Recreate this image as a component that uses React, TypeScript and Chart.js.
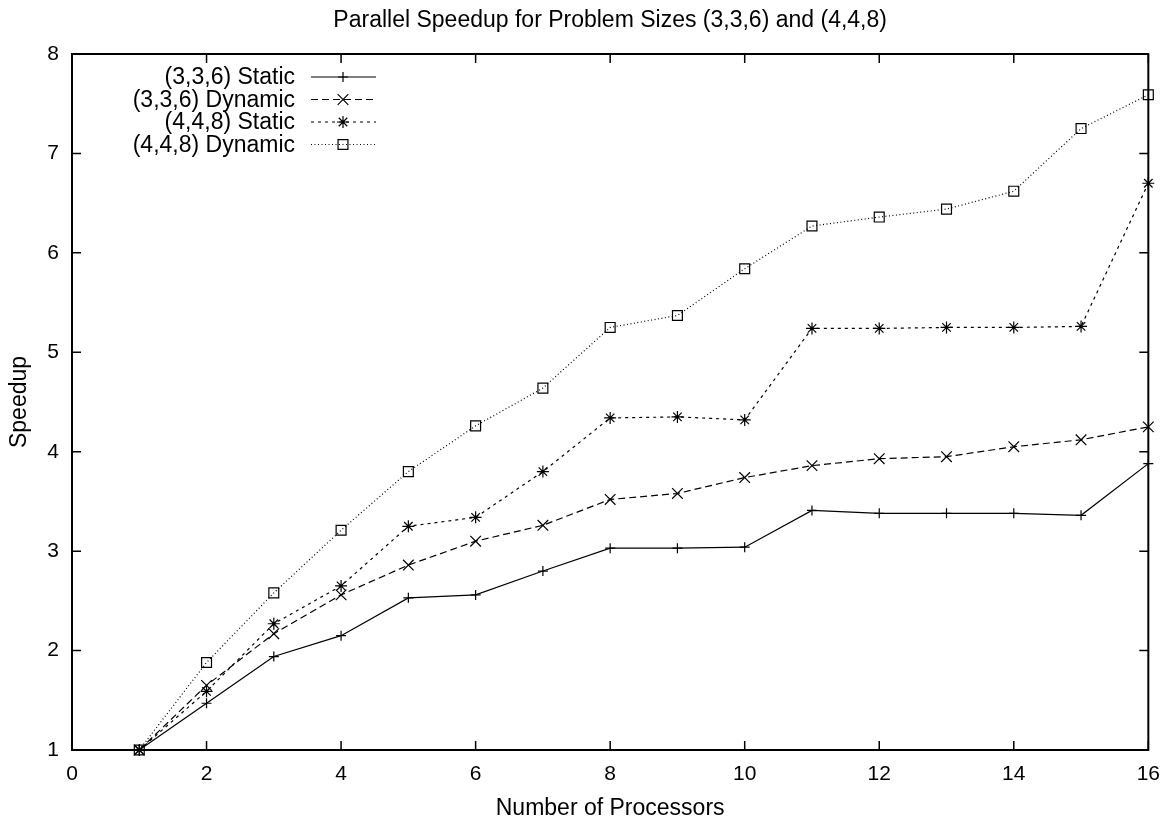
import React, { useEffect, useRef } from "react";
import { Chart, registerables } from "chart.js";
import { drawPoint } from "chart.js/helpers";

Chart.register(...registerables);

const processors = [1, 2, 3, 4, 5, 6, 7, 8, 9, 10, 11, 12, 13, 14, 15, 16];
const static336 = [1.0, 1.47, 1.94, 2.15, 2.53, 2.56, 2.8, 3.03, 3.03, 3.04, 3.41, 3.38, 3.38, 3.38, 3.36, 3.88];
const dynamic336 = [1.0, 1.65, 2.17, 2.56, 2.86, 3.1, 3.26, 3.52, 3.58, 3.74, 3.86, 3.93, 3.95, 4.05, 4.12, 4.25];
const static448 = [1.0, 1.59, 2.27, 2.65, 3.25, 3.34, 3.8, 4.34, 4.35, 4.32, 5.24, 5.24, 5.25, 5.25, 5.26, 6.7];
const dynamic448 = [1.0, 1.88, 2.58, 3.21, 3.8, 4.26, 4.64, 5.25, 5.37, 5.84, 6.27, 6.36, 6.44, 6.62, 7.25, 7.59];

const seriesLabels = ["(3,3,6) Static", "(3,3,6) Dynamic", "(4,4,8) Static", "(4,4,8) Dynamic"];
const titleText = "Parallel Speedup for Problem Sizes (3,3,6) and (4,4,8)";
const xTitle = "Number of Processors";
const yTitle = "Speedup";

const FONT = '"Liberation Sans", Arial, Helvetica, sans-serif';

const toXY = (vals: number[]) => vals.map((v, i) => ({ x: processors[i], y: v }));

const gnuplotPlugin = {
  id: "gnuplotFrame",
  afterDatasetsDraw(chart: any) {
    const { ctx, chartArea } = chart;
    const { left, right, top, bottom } = chartArea;
    const xs = chart.scales.x;
    const ys = chart.scales.y;
    ctx.save();
    ctx.strokeStyle = "#000";
    ctx.setLineDash([]);
    ctx.lineWidth = 1.5;
    const tl = 9;
    ctx.beginPath();
    xs.ticks.forEach((t: any) => {
      const px = xs.getPixelForValue(t.value);
      ctx.moveTo(px, bottom);
      ctx.lineTo(px, bottom - tl);
      ctx.moveTo(px, top);
      ctx.lineTo(px, top + tl);
    });
    ys.ticks.forEach((t: any) => {
      const py = ys.getPixelForValue(t.value);
      ctx.moveTo(left, py);
      ctx.lineTo(left + tl, py);
      ctx.moveTo(right, py);
      ctx.lineTo(right - tl, py);
    });
    ctx.stroke();
    ctx.lineWidth = 2;
    ctx.strokeRect(left, top, right - left, bottom - top);
    ctx.restore();
  },
  afterDraw(chart: any) {
    const { ctx, chartArea } = chart;
    ctx.save();
    // title
    ctx.fillStyle = "#000";
    ctx.font = `23px ${FONT}`;
    ctx.textAlign = "center";
    ctx.textBaseline = "alphabetic";
    ctx.fillText(titleText, (chartArea.left + chartArea.right) / 2, 27);
    // legend
    chart.data.datasets.forEach((ds: any, i: number) => {
      const yy = 77 + i * 22.5;
      ctx.fillStyle = "#000";
      ctx.font = `23px ${FONT}`;
      ctx.textAlign = "right";
      ctx.textBaseline = "middle";
      ctx.fillText(ds.label, 295, yy + 1);
      ctx.strokeStyle = "#000";
      ctx.lineWidth = 1.2;
      ctx.setLineDash(ds.borderDash || []);
      ctx.beginPath();
      ctx.moveTo(311, yy);
      ctx.lineTo(376, yy);
      ctx.stroke();
      ctx.setLineDash([]);
      ctx.fillStyle = "rgba(0,0,0,0)";
      drawPoint(ctx, { pointStyle: ds.pointStyle, radius: ds.pointRadius, borderWidth: 1.2, rotation: 0 } as any, 343, yy);
    });
    ctx.restore();
  },
};

export default function App() {
  const ref = useRef<HTMLCanvasElement | null>(null);
  useEffect(() => {
    if (!ref.current) return;
    const common = {
      borderColor: "#000",
      borderWidth: 1.2,
      pointBorderColor: "#000",
      pointBackgroundColor: "rgba(0,0,0,0)",
      pointBorderWidth: 1.2,
      fill: false,
      tension: 0,
      clip: false as any,
    };
    const chart = new Chart(ref.current, {
      type: "line",
      data: {
        datasets: [
          { ...common, label: seriesLabels[0], data: toXY(static336), borderDash: [], pointStyle: "cross", pointRadius: 5 },
          { ...common, label: seriesLabels[1], data: toXY(dynamic336), borderDash: [7, 4], pointStyle: "crossRot", pointRadius: 7.5 },
          { ...common, label: seriesLabels[2], data: toXY(static448), borderDash: [3, 4], pointStyle: "star", pointRadius: 6 },
          { ...common, label: seriesLabels[3], data: toXY(dynamic448), borderDash: [1, 2.5], pointStyle: "rect", pointRadius: 7 },
        ] as any,
      },
      options: {
        animation: false,
        responsive: false,
        devicePixelRatio: 1,
        layout: { padding: { top: 54, right: 20, left: 0, bottom: 0 } },
        plugins: {
          legend: { display: false },
          title: { display: false },
          tooltip: { enabled: false },
        },
        elements: { point: { hoverRadius: 0 } },
        scales: {
          x: {
            type: "linear",
            min: 0,
            max: 16,
            afterFit: (s: any) => {
              s.height = 75;
            },
            grid: { display: false, drawTicks: false },
            border: { display: false },
            ticks: {
              stepSize: 2,
              color: "#000",
              padding: 12,
              font: { family: FONT, size: 21 },
              maxRotation: 0,
            },
            title: {
              display: true,
              text: xTitle,
              color: "#000",
              font: { family: FONT, size: 23 },
              padding: 3,
            },
          },
          y: {
            type: "linear",
            min: 1,
            max: 8,
            afterFit: (s: any) => {
              s.width = 72;
            },
            grid: { display: false, drawTicks: false },
            border: { display: false },
            ticks: {
              stepSize: 1,
              color: "#000",
              padding: 13,
              font: { family: FONT, size: 21 },
            },
            title: {
              display: true,
              text: yTitle,
              color: "#000",
              font: { family: FONT, size: 23 },
              padding: 6,
            },
          },
        },
      } as any,
      plugins: [gnuplotPlugin],
    });
    return () => chart.destroy();
  }, []);
  return (
    <div style={{ position: "absolute", left: 0, top: 0, width: 1172, height: 825, background: "#fff" }}>
      <canvas ref={ref} width={1172} height={825} style={{ display: "block" }} />
    </div>
  );
}
